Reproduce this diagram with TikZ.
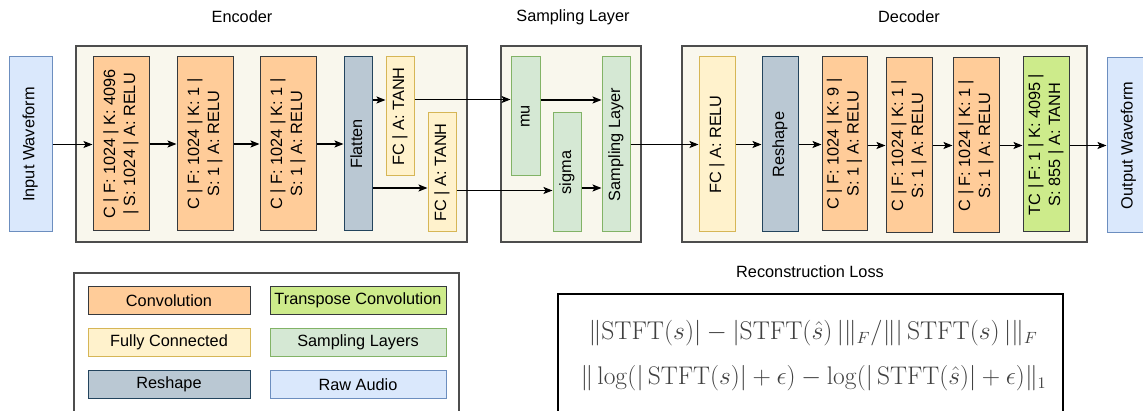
\documentclass[tikz,border=0pt]{standalone}
\usepackage[no-math]{fontspec}
\setmainfont{Liberation Sans}
\usetikzlibrary{arrows.meta}
\definecolor{convF}{HTML}{FFCC99}\definecolor{convD}{HTML}{36393D}
\definecolor{fcF}{HTML}{FFF2CC}\definecolor{fcD}{HTML}{D6B656}
\definecolor{rsF}{HTML}{BAC8D3}\definecolor{rsD}{HTML}{23445D}
\definecolor{smF}{HTML}{D5E8D4}\definecolor{smD}{HTML}{82B366}
\definecolor{tcF}{HTML}{CDEB8B}
\definecolor{raF}{HTML}{DAE8FC}\definecolor{raD}{HTML}{6C8EBF}
\definecolor{ctF}{HTML}{F9F7ED}\definecolor{ctD}{HTML}{4D4D4D}
\newcommand{\vt}[1]{\rotatebox{90}{\begin{tabular}{@{}c@{}}#1\end{tabular}}}
\begin{document}
\begin{tikzpicture}[x=1pt,y=-1pt,
  every node/.style={font=\fontsize{16.3}{20}\selectfont, inner sep=0pt, line width=1pt},
  sz/.style 2 args={minimum width=#1, minimum height=#2},
  cont/.style={draw=ctD, fill=ctF, line width=1.3pt},
  conv/.style={draw=convD, fill=convF},
  fc/.style={draw=fcD, fill=fcF},
  rs/.style={draw=rsD, fill=rsF},
  sm/.style={draw=smD, fill=smF},
  tc/.style={draw=convD, fill=tcF},
  ra/.style={draw=raD, fill=raF},
  ttl/.style={font=\fontsize{16.3}{20}\selectfont},
  arr/.style={line width=1.1pt, -{Stealth[length=9pt,width=7pt,inset=2pt]}}]
\useasboundingbox (0,0) rectangle (1143,411);
% titles
\node[ttl] (tenc) at (242,17) {Encoder};
\node[ttl] (tsmp) at (573,17) {Sampling Layer};
\node[ttl] (tdec) at (909,17) {Decoder};
% containers
\node[cont, sz={391}{196}] (enc) at (271.5,144) {};
\node[cont, sz={140}{196}] (smp) at (571,144) {};
\node[cont, sz={405}{196}] (dec) at (884.5,144) {};
% input
\node[ra, sz={43}{175}] (inw) at (30.5,144.5) {\vt{Input Waveform}};
% encoder
\node[conv, sz={56}{174}] (c1) at (121,144) {\vt{C | F: 1024 | K: 4096\\| S: 1024 | A: RELU}};
\node[conv, sz={56}{174}] (c2) at (205,144) {\vt{C | F: 1024 | K: 1 |\\S: 1 | A: RELU}};
\node[conv, sz={56}{174}] (c3) at (288,144) {\vt{C | F: 1024 | K: 1 |\\S: 1 | A: RELU}};
\node[rs, sz={28}{174}] (flat) at (358,144) {\vt{Flatten}};
\node[fc, sz={28}{119}] (fc1) at (400,116.5) {\vt{FC | A: TANH}};
\node[fc, sz={28}{119}] (fc2) at (442,172.5) {\vt{FC | A: TANH}};
% sampling
\node[sm, sz={29}{119}] (mu) at (525.5,116.5) {\vt{mu}};
\node[sm, sz={28}{119}] (sig) at (567,172.5) {\vt{sigma}};
\node[sm, sz={28}{175}] (sl) at (616,144.5) {\vt{Sampling Layer}};
% decoder
\node[fc, sz={36}{175}] (dfc) at (717,144.5) {\vt{FC | A: RELU}};
\node[rs, sz={36}{175}] (rsh) at (780,144.5) {\vt{Reshape}};
\node[conv, sz={45}{174}] (c9) at (844.5,144) {\vt{C | F: 1024 | K: 9 |\\S: 1 | A: RELU}};
\node[conv, sz={46}{175}] (c1a) at (909,145.5) {\vt{C | F: 1024 | K: 1 |\\S: 1 | A: RELU}};
\node[conv, sz={46}{175}] (c1b) at (976,145.5) {\vt{C | F: 1024 | K: 1 |\\S: 1 | A: RELU}};
\node[tc, sz={46}{175}] (tcn) at (1046,144.5) {\vt{TC | F: 1 | K: 4095 |\\S: 855 | A: TANH}};
\node[ra, sz={43}{175}] (outw) at (1128.5,145.5) {\vt{Output Waveform}};
% arrows
\draw[arr] (inw.east) -- (inw.east -| c1.west);
\draw[arr] (c1) -- (c2);
\draw[arr] (c2) -- (c3);
\draw[arr] (c3) -- (flat);
\draw[arr] (flat.east |- 0,100) -- (fc1.west |- 0,100);
\draw[arr] (flat.east |- 0,188) -- (fc2.west |- 0,188);
\draw[arr] (fc1.east |- 0,99.5) -- (mu.west |- 0,99.5);
\draw[arr] (mu.east |- 0,100) -- (sl.west |- 0,100);
\draw[arr] (fc2.east |- 0,190.5) -- (sig.west |- 0,190.5);
\draw[arr] (sig.east |- 0,188) -- (sl.west |- 0,188);
\draw[arr] (sl.east) -- (sl.east -| dfc.west);
\draw[arr] (dfc) -- (rsh);
\draw[arr] (rsh.east) -- (rsh.east -| c9.west);
\draw[arr] (c9.east |- c1a) -- (c1a.west);
\draw[arr] (c1a) -- (c1b);
\draw[arr] (c1b.east) -- (c1b.east -| tcn.west);
\draw[arr] (tcn.east |- outw) -- (outw.west);
% legend
\node[draw=ctD, fill=white, line width=1.3pt, sz={385}{147}] (leg) at (266.5,346.5) {};
\node[conv, sz={162}{27.6}] (l1) at (169,300.5) {Convolution};
\node[tc, sz={176}{27.6}] (l2) at (358,300.5) {Transpose Convolution};
\node[fc, sz={162}{27.6}] (l3) at (169,342.7) {Fully Connected};
\node[sm, sz={176}{27.6}] (l4) at (358,342.7) {Sampling Layers};
\node[rs, sz={162}{27.6}] (l5) at (169,384.7) {Reshape};
\node[ra, sz={176}{27.6}] (l6) at (358,384.7) {Raw Audio};
% loss
\node[ttl] (tloss) at (810,272) {Reconstruction Loss};
\node[draw=black, fill=white, line width=2.7pt, sz={505}{140}] (loss) at (810.5,364) {};
\node[anchor=west, text=black!75] (f1) at (588,333) {\resizebox{449pt}{!}{$\|\mathrm{STFT}(s)| - |\mathrm{STFT}(\hat{s})\,|\|_F/\||\,\mathrm{STFT}(s)\,|\|_F$}};
\node[anchor=west, text=black!75] (f2) at (580,378) {\resizebox{466pt}{!}{$\|\log(|\,\mathrm{STFT}(s)| + \epsilon) - \log(|\,\mathrm{STFT}(\hat{s})| + \epsilon)\|_1$}};
\end{tikzpicture}
\end{document}
